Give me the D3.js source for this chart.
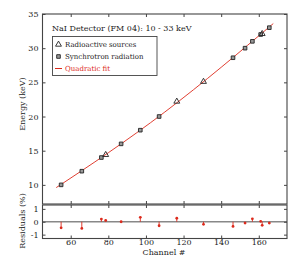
<!DOCTYPE html>
<html><head><meta charset="utf-8">
<script src="https://cdn.jsdelivr.net/npm/d3@7"></script>
<style>body{margin:0;background:#fff}svg{display:block}text{font-family:"DejaVu Serif",serif;fill:#222}</style>
</head><body><svg id="c" width="300" height="266"></svg>
<script>
// data
const sourceType = ["syn","syn","syn","rad","syn","syn","syn","rad","rad","syn","syn","syn","syn","rad","syn"];
const channel    = [54.9, 65.9, 76.3, 78.6, 86.8, 97.0, 107.0, 116.4, 130.6, 146.3, 152.7, 156.6, 161.0, 161.8, 165.6];
const energy     = [10.0, 12.0, 14.0, 14.4, 16.0, 18.0, 20.0, 22.2, 25.1, 28.6, 30.0, 31.0, 32.0, 32.1, 33.0];
const residual   = [-0.47,-0.52, 0.21, 0.10, 0.00, 0.34,-0.31, 0.27,-0.20,-0.36,-0.10, 0.23, 0.03,-0.28,-0.10];
const fitChannel = [52.3, 80, 110, 140, 167.7];
const fitEnergy  = [9.6, 14.7, 20.65, 27.2, 33.6];
const xTicks = [60, 80, 100, 120, 140, 160];
const yTicks = [10, 15, 20, 25, 30, 35];
const rTicks = [-1, 0, 1];
const legendLabels = ["Radioactive sources", "Synchrotron radiation", "Quadratic fit"];
const titleText = "NaI Detector (FM 04): 10 - 33 keV";

const svg = d3.select("#c");
const L = 42.5, R = 287, T = 14, MB = 204, RT = 205, RB = 238.5;
const red = "#dc2a1c", frame = "#444";
const x = d3.scaleLinear().domain([45, 175]).range([L, R]);
const y = d3.scaleLinear().domain([7.2, 35]).range([MB, T]);
const yr = d3.scaleLinear().domain([-1.3, 1.3]).range([RB, RT]);
const fmt = d => String(d);

function frameAxes(g, ys, ticksY, top, bottom) {
  g.append("g").attr("transform", `translate(${L},0)`).call(d3.axisLeft(ys).tickValues(ticksY).tickFormat(fmt).tickSizeInner(-3).tickSizeOuter(0).tickPadding(4))
  .call(a => { a.select(".domain").remove(); a.selectAll("line").attr("stroke", frame); a.selectAll("text").style("font-size","8px").style("font-family","DejaVu Serif").attr("fill","#222"); });
  g.append("g").attr("transform", `translate(${R},0)`).call(d3.axisRight(ys).tickValues(ticksY).tickSizeInner(-3).tickSizeOuter(0).tickFormat(""))
  .call(a => { a.select(".domain").remove(); a.selectAll("line").attr("stroke", frame); });
  g.append("g").attr("transform", `translate(0,${top})`).call(d3.axisTop(x).tickValues(xTicks).tickSizeInner(-3).tickSizeOuter(0).tickFormat(""))
  .call(a => { a.select(".domain").remove(); a.selectAll("line").attr("stroke", frame); });
  g.append("g").attr("transform", `translate(0,${bottom})`).call(d3.axisBottom(x).tickValues(xTicks).tickSizeInner(-3).tickSizeOuter(0).tickFormat(""))
  .call(a => { a.select(".domain").remove(); a.selectAll("line").attr("stroke", frame); });
  g.append("rect").attr("x", L).attr("y", top).attr("width", R - L).attr("height", bottom - top)
    .attr("fill", "none").attr("stroke", frame).attr("stroke-width", 1.1);
}

// main panel
const gm = svg.append("g");
gm.append("path").datum(fitChannel.map((c, i) => [c, fitEnergy[i]]))
  .attr("d", d3.line().x(d => x(d[0])).y(d => y(d[1])).curve(d3.curveNatural))
  .attr("fill", "none").attr("stroke", red).attr("stroke-width", 0.9);
const sq = d3.symbol().type(d3.symbolSquare).size(13);
const tri = d3.symbol().type(d3.symbolTriangle).size(15);
channel.forEach((c, i) => {
  gm.append("path").attr("d", sourceType[i] === "syn" ? sq() : tri())
    .attr("transform", `translate(${x(c)},${y(energy[i])})`)
    .attr("fill", sourceType[i] === "syn" ? "#999" : "none")
    .attr("stroke", "#222").attr("stroke-width", 0.9);
});
frameAxes(gm, y, yTicks, T, MB);

// title
svg.append("text").attr("x", 52).attr("y", 30.5).style("font-size", "8px").text(titleText);
// legend
svg.append("rect").attr("x", 52.5).attr("y", 36.5).attr("width", 104.5).attr("height", 39)
  .attr("fill", "#fff").attr("stroke", frame).attr("stroke-width", 0.9);
const ly = [44.5, 56.5, 68.5];
svg.append("path").attr("d", tri()).attr("transform", `translate(58.5,${ly[0]})`).attr("fill", "none").attr("stroke", "#222").attr("stroke-width", 0.9);
svg.append("path").attr("d", sq()).attr("transform", `translate(58.5,${ly[1]})`).attr("fill", "#999").attr("stroke", "#222").attr("stroke-width", 0.9);
svg.append("line").attr("x1", 55).attr("x2", 62).attr("y1", ly[2]).attr("y2", ly[2]).attr("stroke", red).attr("stroke-width", 1);
legendLabels.forEach((t, i) => {
  svg.append("text").attr("x", 65).attr("y", ly[i]).attr("dy", "0.35em").style("font-size", "7px")
    .style("fill", i === 2 ? red : "#222").text(t);
});

// residual panel
const gr = svg.append("g");
gr.append("line").attr("x1", L).attr("x2", R).attr("y1", yr(0)).attr("y2", yr(0)).attr("stroke", "#888").attr("stroke-width", 1.3);
channel.forEach((c, i) => {
  gr.append("line").attr("x1", x(c)).attr("x2", x(c)).attr("y1", yr(0)).attr("y2", yr(residual[i])).attr("stroke", red).attr("stroke-width", 0.9);
  gr.append("circle").attr("cx", x(c)).attr("cy", yr(residual[i])).attr("r", 1.4).attr("fill", red);
});
frameAxes(gr, yr, rTicks, RT, RB);
gr.append("g").attr("transform", `translate(0,${RB})`).call(d3.axisBottom(x).tickValues(xTicks).tickFormat(fmt).tickSize(0).tickPadding(1))
  .call(a => { a.select(".domain").remove(); a.selectAll("text").style("font-size","8px").style("font-family","DejaVu Serif").attr("fill","#222"); });

// axis titles
svg.append("text").attr("transform", "translate(24.5,104) rotate(-90)").attr("text-anchor", "middle").style("font-size", "8px").text("Energy (keV)");
svg.append("text").attr("transform", "translate(24.5,221) rotate(-90)").attr("text-anchor", "middle").style("font-size", "8px").text("Residuals (%)");
svg.append("text").attr("x", 164).attr("y", 255).attr("text-anchor", "middle").style("font-size", "8px").text("Channel #");
</script></body></html>
